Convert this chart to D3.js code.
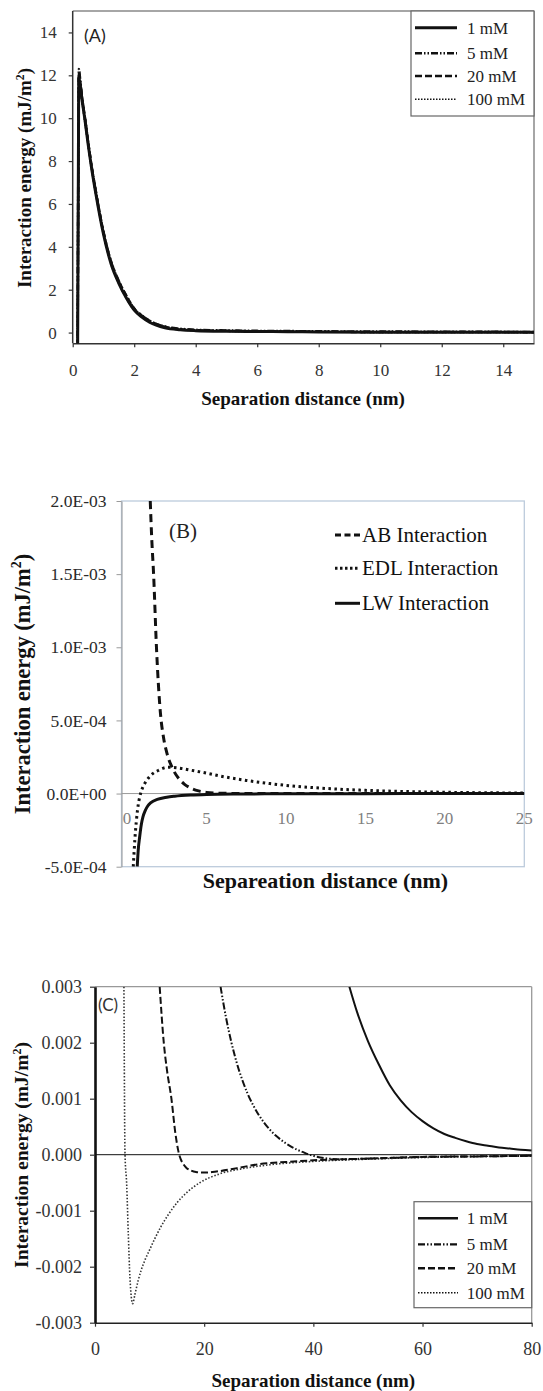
<!DOCTYPE html>
<html>
<head>
<meta charset="utf-8">
<script src="https://cdn.jsdelivr.net/npm/d3@7"></script>
<style>
  html, body { margin: 0; padding: 0; background: #fff; }
  svg { display: block; }
</style>
</head>
<body>
<svg id="chart" width="543" height="1391"></svg>
<script>
// ---------------- DATA ----------------
// Panel A : total interaction energy vs separation, four ionic strengths
const seriesNamesA = ["1 mM", "5 mM", "20 mM", "100 mM"];
const xA = [0.16, 0.18, 0.2, 0.25, 0.3, 0.4, 0.5, 0.6, 0.75, 1.0, 1.25, 1.5, 1.75, 2.0, 2.25, 2.5, 3.0, 3.5, 4.0, 5, 6, 7, 8, 10, 12, 15];
const yA_1mM   = [-1, 6.0, 11.9, 11.5, 10.9, 9.9, 8.8, 7.8, 6.5, 4.6, 3.2, 2.3, 1.6, 1.05, 0.72, 0.48, 0.22, 0.13, 0.09, 0.06, 0.05, 0.04, 0.03, 0.02, 0.02, 0.01];
const yA_5mM   = [-1, 7.0, 12.3, 11.7, 11.0, 10.0, 8.9, 7.9, 6.6, 4.7, 3.3, 2.4, 1.7, 1.12, 0.8, 0.55, 0.28, 0.18, 0.13, 0.10, 0.08, 0.07, 0.06, 0.05, 0.04, 0.03];
const yA_20mM  = [-1, 6.5, 12.1, 11.6, 11.0, 10.0, 8.9, 7.9, 6.6, 4.7, 3.3, 2.4, 1.7, 1.12, 0.79, 0.55, 0.27, 0.16, 0.11, 0.08, 0.06, 0.05, 0.04, 0.03, 0.03, 0.02];
const yA_100mM = [-1, 5.5, 11.0, 11.2, 10.8, 9.8, 8.8, 7.8, 6.5, 4.6, 3.2, 2.3, 1.6, 1.05, 0.73, 0.50, 0.24, 0.14, 0.10, 0.07, 0.05, 0.04, 0.03, 0.02, 0.02, 0.01];
const xTicksA = [0, 2, 4, 6, 8, 10, 12, 14];
const yTicksA = [0, 2, 4, 6, 8, 10, 12, 14];

// Panel B : components (AB, EDL, LW)
const seriesNamesB = ["AB Interaction", "EDL Interaction", "LW Interaction"];
const xB_AB  = [1.46, 1.55, 1.67, 1.85, 2.1, 2.3, 2.5, 2.85, 3.2, 3.6, 4.0, 4.5, 5, 6, 8, 12, 25];
const yB_AB  = [2.0e-3, 1.75e-3, 1.5e-3, 1.0e-3, 5.5e-4, 3.8e-4, 2.8e-4, 1.75e-4, 1.1e-4, 6.5e-5, 3.8e-5, 1.8e-5, 8e-6, 2e-6, 0, 0, 0];
const xB_EDL = [0.39, 0.5, 0.65, 0.85, 1.0, 1.2, 1.5, 2.0, 2.6, 3.2, 4.0, 5.0, 6.0, 7.5, 9, 10, 12.5, 15, 17.5, 20, 25];
const yB_EDL = [-5e-4, -3e-4, -1.2e-4, 0, 4.5e-5, 8.5e-5, 1.25e-4, 1.6e-4, 1.8e-4, 1.75e-4, 1.6e-4, 1.4e-4, 1.17e-4, 9e-5, 6.8e-5, 5.6e-5, 3.5e-5, 2.2e-5, 1.4e-5, 9e-6, 3.5e-6];
const xB_LW  = [0.64, 0.7, 0.8, 0.9, 1.0, 1.15, 1.3, 1.5, 1.9, 2.5, 3.0, 4.0, 5, 7, 10, 15, 20, 25];
const yB_LW  = [-5e-4, -3.9e-4, -2.9e-4, -2.1e-4, -1.6e-4, -1.15e-4, -8.5e-5, -6.2e-5, -4e-5, -2.5e-5, -1.8e-5, -1e-5, -6e-6, -3e-6, -1.5e-6, -5e-7, -2e-7, 0];
const xTicksB = [0, 5, 10, 15, 20, 25];
const yTicksB = [-5e-4, 0, 5e-4, 1e-3, 1.5e-3, 2e-3];
const yTickLabelsB = ["-5.0E-04", "0.0E+00", "5.0E-04", "1.0E-03", "1.5E-03", "2.0E-03"];

// Panel C : zoom near zero, four ionic strengths
const seriesNamesC = ["1 mM", "5 mM", "20 mM", "100 mM"];
const xC_1mM   = [46.6, 48, 50, 52, 54, 56, 58, 60, 62, 64, 66, 68, 70, 72, 74, 76, 78, 80];
const yC_1mM   = [0.003, 0.00255, 0.00203, 0.00161, 0.00124, 0.00097, 0.00076, 0.0006, 0.00047, 0.00037, 0.0003, 0.00024, 0.00019, 0.00016, 0.00013, 0.00011, 0.00009, 0.000077];
const xC_5mM   = [23, 24, 25, 26, 27, 28, 29, 30, 31, 32, 33, 34, 35, 36, 37, 38, 39, 40, 42, 45, 50, 60, 70, 80];
const yC_5mM   = [0.003, 0.00245, 0.002, 0.00163, 0.00133, 0.00108, 0.00088, 0.00071, 0.00057, 0.00045, 0.00035, 0.00027, 0.0002, 0.00014, 0.00009, 0.00005, 0.00001, -0.00002, -0.00006, -0.00008, -0.00007, -0.00004, -0.00003, -0.00002];
const xC_20mM  = [11.85, 12.6, 13.2, 14.0, 14.7, 15.3, 15.7, 16.2, 16.8, 17.5, 18.5, 20, 21.5, 23, 26, 30, 35, 40, 50, 60, 70, 80];
const yC_20mM  = [0.003, 0.002, 0.0015, 0.001, 0.0004, 0.00005, -0.00008, -0.00017, -0.00024, -0.00028, -0.00031, -0.00032, -0.00031, -0.00029, -0.00024, -0.00017, -0.00013, -0.0001, -0.00007, -0.00004, -0.00003, -0.00002];
const xC_100mM = [5.3, 5.5, 5.8, 6.1, 6.4, 6.9, 7.3, 7.9, 8.5, 9.2, 10, 11, 12, 13.5, 15, 17, 19.2, 22.9, 27, 32, 40, 50, 60, 70, 80];
const yC_100mM = [0.003, 0, -0.00052, -0.00141, -0.00219, -0.00266, -0.0025, -0.00225, -0.00205, -0.00187, -0.0017, -0.00149, -0.0013, -0.00106, -0.00086, -0.00066, -0.0005, -0.00034, -0.00025, -0.00018, -0.00012, -0.00008, -0.00005, -0.00003, -0.00002];
const xTicksC = [0, 20, 40, 60, 80];
const yTicksC = [-0.003, -0.002, -0.001, 0, 0.001, 0.002, 0.003];
const yTickLabelsC = ["-0.003", "-0.002", "-0.001", "0.000", "0.001", "0.002", "0.003"];

// ---------------- DRAWING ----------------
const svg = d3.select("#chart");
const SERIF = "'Liberation Serif', 'Times New Roman', serif";
const SANS = "Lato, 'Open Sans', sans-serif";

function zip(xs, ys) { return xs.map((x, i) => ({ x: x, y: ys[i] })); }

function clip(id, x0, y0, x1, y1) {
  svg.append("clipPath").attr("id", id).append("rect")
    .attr("x", x0).attr("y", y0).attr("width", x1 - x0).attr("height", y1 - y0);
}

function drawSeries(g, data, sx, sy, style, clipId) {
  const line = d3.line().x(d => sx(d.x)).y(d => sy(d.y)).curve(d3.curveMonotoneX);
  g.append("path").datum(data)
    .attr("clip-path", "url(#" + clipId + ")")
    .attr("fill", "none")
    .attr("stroke", style.color || "#111")
    .attr("stroke-width", style.width)
    .attr("stroke-dasharray", style.dash || null)
    .attr("stroke-linecap", style.cap || "butt")
    .attr("stroke-linejoin", "round")
    .attr("d", line);
}

function rotatedTitle(x, y, size, parts) {
  const t = svg.append("text")
    .attr("transform", `translate(${x},${y}) rotate(-90)`)
    .attr("text-anchor", "middle")
    .attr("font-family", SERIF).attr("font-weight", "bold")
    .attr("font-size", size).attr("fill", "#111");
  t.append("tspan").text(parts[0]);
  t.append("tspan").attr("dy", -size * 0.38).attr("font-size", size * 0.62).text("2");
  t.append("tspan").attr("dy", size * 0.38).text(")");
}

// ===== Panel A =====
(function () {
  const L = 72.7, R = 534, T = 11, B = 343.3;
  const sx = d3.scaleLinear().domain([0, 15]).range([L, R]);
  const sy = d3.scaleLinear().domain([-0.5, 15]).range([B, T]);
  const g = svg.append("g");
  clip("clipA", L, T, R, B);

  g.append("line").attr("x1", L).attr("x2", R).attr("y1", T).attr("y2", T).attr("stroke", "#888").attr("stroke-width", 1.5);
  g.append("line").attr("x1", R).attr("x2", R).attr("y1", T).attr("y2", B).attr("stroke", "#888").attr("stroke-width", 1.5);

  const ax = g.append("g").attr("transform", `translate(0,${B})`)
    .call(d3.axisBottom(sx).tickValues(xTicksA).tickSize(4).tickPadding(17).tickSizeOuter(0));
  const ay = g.append("g").attr("transform", `translate(${L},0)`)
    .call(d3.axisLeft(sy).tickValues(yTicksA).tickSize(4).tickPadding(12).tickSizeOuter(0));
  [ax, ay].forEach(a => {
    a.select(".domain").attr("stroke", "#333").attr("stroke-width", 1.5);
    a.selectAll(".tick line").attr("stroke", "#333").attr("stroke-width", 1.2);
    a.selectAll("text").attr("font-family", SERIF).attr("font-size", 17).attr("fill", "#333");
  });
  ay.select(".domain").attr("d", `M0,${T}V${B}`);

  const styles = [
    { width: 3 },
    { width: 2.5, dash: "7,2,1.5,2,1.5,2" },
    { width: 2.5, dash: "6,3" },
    { width: 2, dash: "1.5,1.5" }
  ];
  const ys = [yA_1mM, yA_5mM, yA_20mM, yA_100mM];
  [3, 2, 1, 0].forEach(i => drawSeries(g, zip(xA, ys[i]), sx, sy, styles[i], "clipA"));

  svg.append("text").attr("x", 84).attr("y", 42).attr("font-family", SANS).attr("font-size", 18).attr("fill", "#222").text("(A)");

  const lg = svg.append("g");
  lg.append("rect").attr("x", 411).attr("y", 11).attr("width", 123).attr("height", 105)
    .attr("fill", "#fff").attr("stroke", "#666").attr("stroke-width", 1.2);
  const ly = [27.7, 53.3, 76, 99.3];
  const lstyles = [
    { width: 3 },
    { width: 2.5, dash: "7,2,1.5,2,1.5,2" },
    { width: 2.5, dash: "7,3" },
    { width: 1.5, dash: "1.5,1.5" }
  ];
  seriesNamesA.forEach((n, i) => {
    lg.append("line").attr("x1", 415).attr("x2", 457).attr("y1", ly[i]).attr("y2", ly[i])
      .attr("stroke", "#111").attr("stroke-width", lstyles[i].width).attr("stroke-dasharray", lstyles[i].dash || null);
    lg.append("text").attr("x", 467).attr("y", ly[i]).attr("dy", "0.35em")
      .attr("font-family", SERIF).attr("font-size", 17).attr("fill", "#222").text(n);
  });

  svg.append("text").attr("x", 303).attr("y", 405).attr("text-anchor", "middle")
    .attr("font-family", SERIF).attr("font-weight", "bold").attr("font-size", 19).attr("fill", "#111")
    .text("Separation distance (nm)");
  rotatedTitle(31, 178, 19, ["Interaction energy (mJ/m"]);
})();

// ===== Panel B =====
(function () {
  const L = 121.5, R = 524.3, T = 501, B = 866.7;
  const sx = d3.scaleLinear().domain([-0.35, 25]).range([L, R]);
  const sy = d3.scaleLinear().domain([-5e-4, 2e-3]).range([B, T]);
  const g = svg.append("g");
  clip("clipB", L, T, R, B);

  g.append("rect").attr("x", L).attr("y", T).attr("width", R - L).attr("height", B - T)
    .attr("fill", "none").attr("stroke", "#bccbdc").attr("stroke-width", 1.3);

  g.append("line").attr("x1", L).attr("x2", R).attr("y1", sy(0)).attr("y2", sy(0))
    .attr("stroke", "#9a9a9a").attr("stroke-width", 1);

  const ay = g.append("g").attr("transform", `translate(${L},0)`)
    .call(d3.axisLeft(sy).tickValues(yTicksB).tickFormat((d, i) => yTickLabelsB[i]).tickSize(5).tickPadding(10).tickSizeOuter(0));
  ay.select(".domain").attr("stroke", "#9a9a9a");
  ay.selectAll(".tick line").attr("stroke", "#9a9a9a");
  ay.selectAll("text").attr("font-family", SERIF).attr("font-size", 17.5).attr("fill", "#2a2a2a");

  g.selectAll(".xlb").data(xTicksB).enter().append("text")
    .attr("x", d => sx(d)).attr("y", sy(0) + 30).attr("text-anchor", "middle")
    .attr("font-family", SERIF).attr("font-size", 17).attr("fill", "#808080").text(d => d);

  const styles = [
    { width: 3, dash: "8,5" },
    { width: 3, dash: "2.5,3.5" },
    { width: 3 }
  ];
  drawSeries(g, zip(xB_EDL, yB_EDL), sx, sy, styles[1], "clipB");
  drawSeries(g, zip(xB_LW, yB_LW), sx, sy, styles[2], "clipB");
  drawSeries(g, zip(xB_AB, yB_AB), sx, sy, styles[0], "clipB");

  svg.append("text").attr("x", 169).attr("y", 538).attr("font-family", SERIF).attr("font-size", 21).attr("fill", "#222").text("(B)");

  const ly = [535, 568.3, 603.3];
  seriesNamesB.forEach((n, i) => {
    svg.append("line").attr("x1", 335).attr("x2", 360).attr("y1", ly[i]).attr("y2", ly[i])
      .attr("stroke", "#111").attr("stroke-width", 3)
      .attr("stroke-dasharray", i === 0 ? "6,3.5" : (i === 1 ? "2.5,2.5" : null));
    svg.append("text").attr("x", 362).attr("y", ly[i]).attr("dy", "0.33em")
      .attr("font-family", SERIF).attr("font-size", 21).attr("fill", "#111").text(n);
  });

  svg.append("text").attr("x", 325.5).attr("y", 888).attr("text-anchor", "middle")
    .attr("font-family", SERIF).attr("font-weight", "bold").attr("font-size", 22).attr("fill", "#111")
    .text("Separeation distance (nm)");
  rotatedTitle(30, 684, 22.5, ["Interaction energy  (mJ/m"]);
})();

// ===== Panel C =====
(function () {
  const L = 95, R = 531.7, T = 986.7, B = 1322.7;
  const sx = d3.scaleLinear().domain([0, 80]).range([L, R]);
  const sy = d3.scaleLinear().domain([-0.003, 0.003]).range([B, T]);
  const g = svg.append("g");
  clip("clipC", L, T, R, B);

  g.append("line").attr("x1", L).attr("x2", R).attr("y1", T).attr("y2", T).attr("stroke", "#999").attr("stroke-width", 1.3);
  g.append("line").attr("x1", R).attr("x2", R).attr("y1", T).attr("y2", B).attr("stroke", "#999").attr("stroke-width", 1.3);
  g.append("line").attr("x1", L).attr("x2", R).attr("y1", sy(0)).attr("y2", sy(0)).attr("stroke", "#111").attr("stroke-width", 1);

  const ax = g.append("g").attr("transform", `translate(0,${B})`)
    .call(d3.axisBottom(sx).tickValues(xTicksC).tickSize(4).tickPadding(16).tickSizeOuter(0));
  const ay = g.append("g").attr("transform", `translate(${L},0)`)
    .call(d3.axisLeft(sy).tickValues(yTicksC).tickFormat((d, i) => yTickLabelsC[i]).tickSize(5).tickPadding(8).tickSizeOuter(0));
  ax.select(".domain").attr("stroke", "#222").attr("stroke-width", 1.5);
  ay.select(".domain").attr("stroke", "#111").attr("stroke-width", 2.6);
  [ax, ay].forEach(a => {
    a.selectAll(".tick line").attr("stroke", "#333").attr("stroke-width", 1.2);
    a.selectAll("text").attr("font-family", SERIF).attr("font-size", 18).attr("fill", "#333");
  });

  const styles = [
    { width: 2 },
    { width: 2, dash: "7,2,1.5,2,1.5,2" },
    { width: 2, dash: "7,3" },
    { width: 1.6, dash: "1.5,1.8", color: "#333" }
  ];
  drawSeries(g, zip(xC_100mM, yC_100mM), sx, sy, styles[3], "clipC");
  drawSeries(g, zip(xC_20mM, yC_20mM), sx, sy, styles[2], "clipC");
  drawSeries(g, zip(xC_5mM, yC_5mM), sx, sy, styles[1], "clipC");
  drawSeries(g, zip(xC_1mM, yC_1mM), sx, sy, styles[0], "clipC");

  svg.append("text").attr("x", 98).attr("y", 1011).attr("font-family", SANS).attr("font-size", 17).attr("fill", "#333").text("(C)");

  const lg = svg.append("g");
  lg.append("rect").attr("x", 414).attr("y", 1201.7).attr("width", 117.7).attr("height", 106)
    .attr("fill", "#fff").attr("stroke", "#666").attr("stroke-width", 1.2);
  const ly = [1218.3, 1244.3, 1268.3, 1292.7];
  const lstyles = [
    { width: 2.5 },
    { width: 2.2, dash: "7,2,1.5,2,1.5,2" },
    { width: 2.5, dash: "7,3" },
    { width: 1.4, dash: "1.5,1.5" }
  ];
  seriesNamesC.forEach((n, i) => {
    lg.append("line").attr("x1", 418).attr("x2", 458).attr("y1", ly[i]).attr("y2", ly[i])
      .attr("stroke", "#111").attr("stroke-width", lstyles[i].width).attr("stroke-dasharray", lstyles[i].dash || null);
    lg.append("text").attr("x", 466.7).attr("y", ly[i]).attr("dy", "0.35em")
      .attr("font-family", SERIF).attr("font-size", 17).attr("fill", "#222").text(n);
  });

  svg.append("text").attr("x", 313.3).attr("y", 1387).attr("text-anchor", "middle")
    .attr("font-family", SERIF).attr("font-weight", "bold").attr("font-size", 19).attr("fill", "#111")
    .text("Separation distance (nm)");
  rotatedTitle(28, 1155, 19.5, ["Interaction energy (mJ/m"]);
})();
</script>
</body>
</html>
